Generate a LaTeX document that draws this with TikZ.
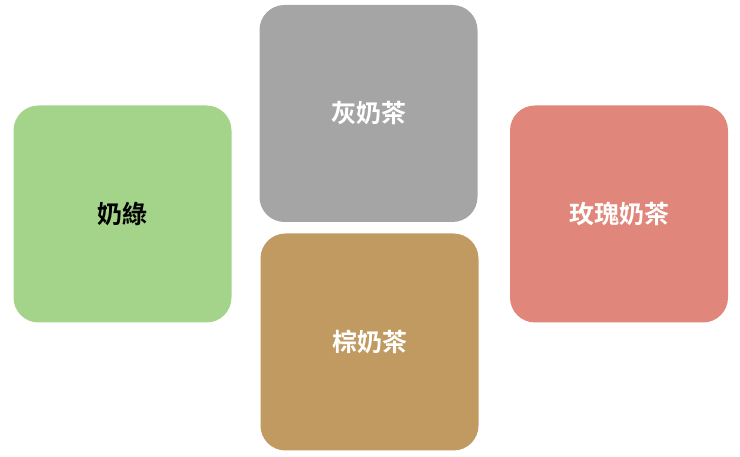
\documentclass[tikz,border=0pt]{standalone}
\usepackage{fontspec}
\newfontfamily\cjk{Noto Sans CJK TC}[BoldFont={Noto Sans CJK TC Bold}]
\definecolor{teagreen}{HTML}{A3D48A}
\definecolor{teagray}{HTML}{A5A5A5}
\definecolor{teabrown}{HTML}{C19A62}
\definecolor{tearose}{HTML}{E0867A}
\begin{document}
\begin{tikzpicture}[x=1pt, y=-1pt,
  teabox/.style={rounded corners=25pt, minimum width=218pt, minimum height=217pt,
    inner sep=0pt, font=\cjk\bfseries\fontsize{25}{25}\selectfont, text=white}]
\useasboundingbox (0,0) rectangle (740,457);
\node[teabox, fill=teagreen, text=black] (milkgreen) at (122.5,214){奶綠};
\node[teabox, fill=teagray] (graytea) at (368.5,113.5){灰奶茶};
\node[teabox, fill=teabrown] (browntea) at (369.5,342){棕奶茶};
\node[teabox, fill=tearose] (rosetea) at (619,214){玫瑰奶茶};
\end{tikzpicture}
\end{document}
